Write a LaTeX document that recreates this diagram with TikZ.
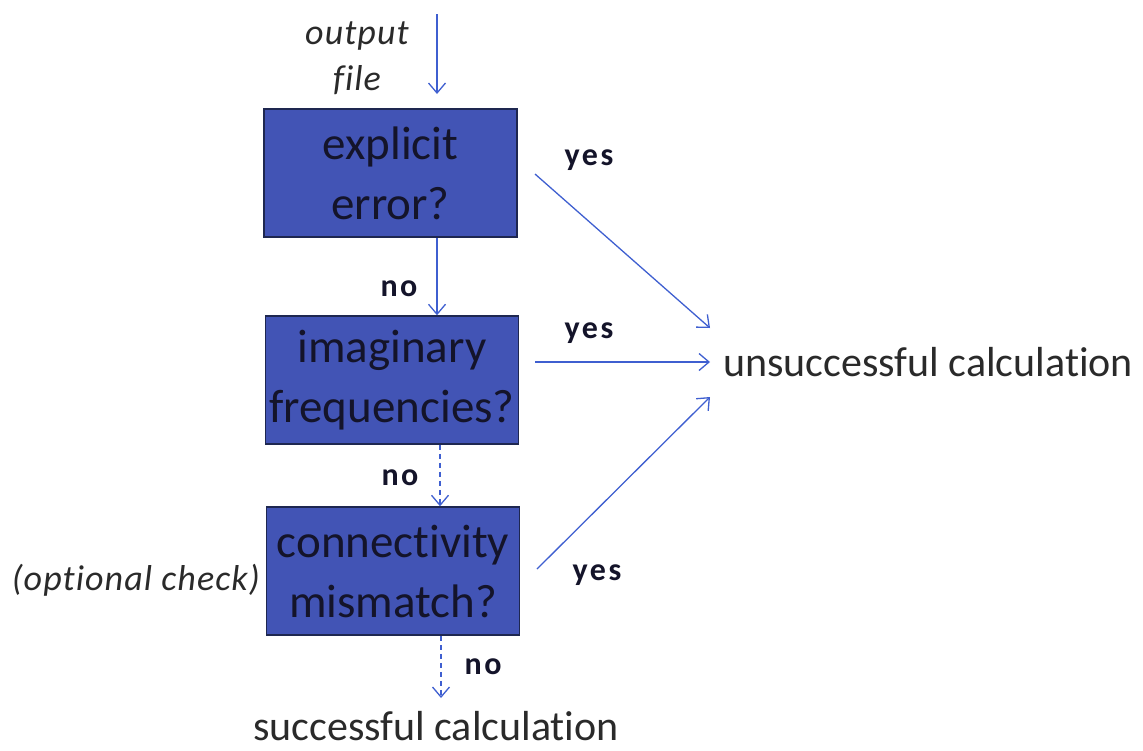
\documentclass[tikz,border=0pt]{standalone}
\usepackage{fontspec}
\setmainfont{Carlito}[Ligatures=NoCommon]
\usetikzlibrary{arrows.meta}
\definecolor{boxfill}{HTML}{4254B5}
\definecolor{boxedge}{HTML}{1E2750}
\definecolor{boxtext}{HTML}{14142A}
\definecolor{arrowblue}{HTML}{3F5FD0}
\definecolor{graytext}{HTML}{2A2A2A}
\tikzset{
  decision/.style={draw=boxedge, line width=1.5pt, fill=boxfill, text=boxtext,
    minimum width=253pt, minimum height=128pt, inner sep=0pt, align=center,
    font=\fontsize{47}{60}\selectfont},
  flow/.style={draw=arrowblue, line width=1.3pt, -{Straight Barb[length=10pt,width=17pt]}},
  flowdash/.style={flow, dash pattern=on 5pt off 4pt},
  answer/.style={font=\bfseries\fontsize{32}{36}\selectfont\addfontfeature{LetterSpace=8}, text=boxtext, inner sep=0pt},
  result/.style={font=\fontsize{42}{48}\selectfont, text=graytext, inner sep=0pt},
  note/.style={font=\itshape\fontsize{36}{46}\selectfont\addfontfeature{LetterSpace=3}, text=graytext, inner sep=0pt, align=center}
}
\begin{document}
\begin{tikzpicture}[x=1pt,y=-1pt]
\useasboundingbox (0,0) rectangle (1143,750);
\node[decision] (b1) at (390.5,173) {explicit\\error?};
\node[decision] (b2) at (392,380) {imaginary\\frequencies?};
\node[decision] (b3) at (393,571) {connectivity\\mismatch?};
\node[note] (out) at (357,58) {output\\file};
\node[note, anchor=base east] (opt) at (260,590) {(optional check)};
\node[result, anchor=base west] (uns) at (723,376) {unsuccessful calculation};
\node[result, anchor=base] (suc) at (436,740) {successful calculation};
\coordinate (top) at (437,14);
\coordinate (in1) at (437,94);
\coordinate (s1) at (535,174);
\coordinate (s2) at (535,362);
\coordinate (s3) at (537,569);
\coordinate (t1) at (710,328);
\coordinate (t2) at (710,362);
\coordinate (t3) at (710,397);
\coordinate (sucin) at (441,698);
\draw[flow] (top) -- (in1);
\draw[flow] (b1.south -| in1) -- (b2.north -| in1);
\draw[flowdash] (b2.south -| 440,0) -- (b3.north -| 440,0);
\draw[flowdash] (b3.south -| sucin) -- (sucin);
\draw[flow] (s1) -- (t1);
\draw[flow] (s2) -- (t2);
\draw[flow] (s3) -- (t3);
\node[answer] (n1) at (399,289) {no};
\node[answer] (n2) at (400,478) {no};
\node[answer] (n3) at (483,667) {no};
\node[answer] (y1) at (589,160) {yes};
\node[answer] (y2) at (589,333) {yes};
\node[answer] (y3) at (597,575) {yes};
\end{tikzpicture}
\end{document}
